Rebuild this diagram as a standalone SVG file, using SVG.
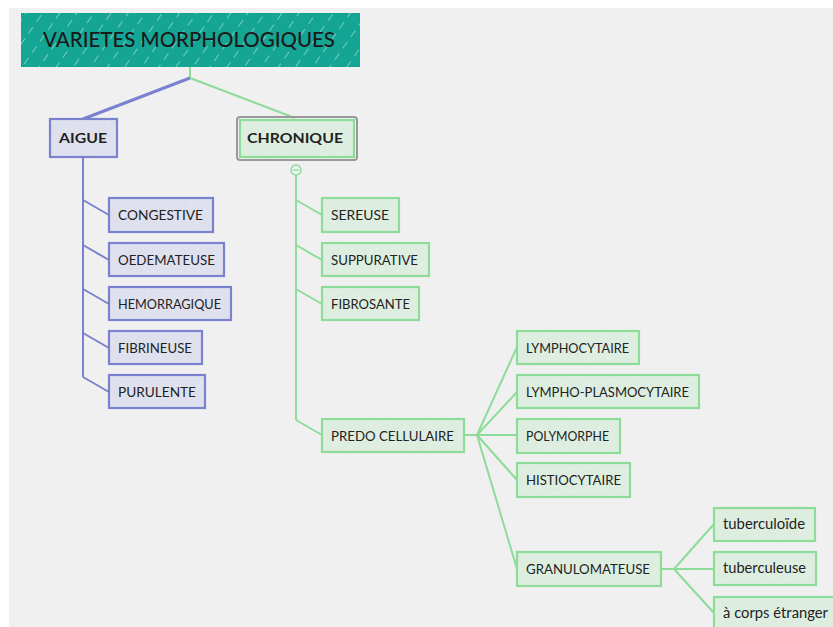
<svg xmlns="http://www.w3.org/2000/svg" width="833" height="627" viewBox="0 0 833 627">
<style>
.t{font-family:Lato,"Open Sans",sans-serif;font-size:13.5px;fill:#222222;}
.s{font-size:14.5px;}
.lb{fill:none;stroke:#7a82d0;stroke-width:2;}
.lg{fill:none;stroke:#8ddc9a;stroke-width:2;}
</style>
<defs>
<pattern id="hatchT" width="14" height="14" patternUnits="userSpaceOnUse" patternTransform="rotate(35)">
<rect width="14" height="14" fill="#14a594"/>
<line x1="0" y1="3" x2="0" y2="11" stroke="#b8e6df" stroke-width="1.2"/>
</pattern>
<pattern id="hatchB" width="16" height="16" patternUnits="userSpaceOnUse" patternTransform="rotate(35)">
<rect width="16" height="16" fill="#dfe0ee"/>
<line x1="0" y1="4" x2="0" y2="12" stroke="#eceef6" stroke-width="1"/>
</pattern>
<pattern id="hatchG" width="16" height="16" patternUnits="userSpaceOnUse" patternTransform="rotate(35)">
<rect width="16" height="16" fill="#ddeee0"/>
<line x1="0" y1="4" x2="0" y2="12" stroke="#ebf6ed" stroke-width="1"/>
</pattern>
</defs>
<rect width="833" height="627" fill="#ffffff"/>
<rect x="9" y="8" width="824" height="619" fill="#f0f0f0"/>

<g id="connectors">
<path class="lg" d="M190 67 V78"/>
<path d="M190 78 L83 119" fill="none" stroke="#7a82d0" stroke-width="3"/>
<path class="lg" d="M190 78 L295 118"/>
<path class="lb" d="M83 157 V377"/>
<path class="lb" d="M83 200 L109 215 M83 245 L109 260 M83 289 L109 304 M83 333 L109 348 M83 377 L109 392"/>
<path class="lg" d="M296 175 V420"/>
<path class="lg" d="M296 200 L322 215 M296 245 L322 260 M296 289 L322 304 M296 420 L322 435"/>
<path class="lg" d="M464 435 H477 M477 435 L517 347 M477 435 L517 392 M477 435 H517 M477 435 L517 480 M477 435 L517 569"/>
<path class="lg" d="M661 569 H674 M674 569 L714 524 M674 569 H714 M674 569 L714 613"/>
</g>

<g id="title">
<rect x="21" y="13" width="339" height="54" fill="url(#hatchT)"/>
<text x="43" y="47" font-family="Lato,'Open Sans',sans-serif" font-size="21" font-weight="500" fill="#1a1a1a" textLength="292" lengthAdjust="spacingAndGlyphs">VARIETES MORPHOLOGIQUES</text>
</g>

<g id="aigue">
<rect x="50" y="119" width="67" height="38" fill="url(#hatchB)" stroke="#7a82d0" stroke-width="2.2"/>
<text x="59" y="143" class="t" font-size="15" font-weight="bold" textLength="48" lengthAdjust="spacingAndGlyphs">AIGUE</text>
</g>

<g id="chronique">
<rect x="237" y="117" width="120" height="43" rx="3" fill="none" stroke="#999999" stroke-width="2"/>
<rect x="240" y="120" width="114" height="37" fill="url(#hatchG)" stroke="#8ddc9a" stroke-width="2.2"/>
<text x="247" y="143" class="t" font-size="15" font-weight="bold" textLength="96" lengthAdjust="spacingAndGlyphs">CHRONIQUE</text>
<circle cx="296" cy="170" r="5" fill="#eef6ef" stroke="#8ddc9a" stroke-width="1.5"/>
<line x1="293" y1="170" x2="299" y2="170" stroke="#8ddc9a" stroke-width="1.5"/>
</g>

<g id="congestive"><rect x="109" y="198" width="104" height="34" fill="url(#hatchB)" stroke="#7a82d0" stroke-width="2.2"/><text x="118" y="220" class="t" textLength="85" lengthAdjust="spacingAndGlyphs">CONGESTIVE</text></g>
<g id="oedemateuse"><rect x="109" y="243" width="115" height="33" fill="url(#hatchB)" stroke="#7a82d0" stroke-width="2.2"/><text x="118" y="264.5" class="t" textLength="97" lengthAdjust="spacingAndGlyphs">OEDEMATEUSE</text></g>
<g id="hemorragique"><rect x="109" y="287" width="122" height="33" fill="url(#hatchB)" stroke="#7a82d0" stroke-width="2.2"/><text x="118" y="308.5" class="t" textLength="103" lengthAdjust="spacingAndGlyphs">HEMORRAGIQUE</text></g>
<g id="fibrineuse"><rect x="109" y="331" width="93" height="33" fill="url(#hatchB)" stroke="#7a82d0" stroke-width="2.2"/><text x="118" y="352.5" class="t" textLength="74" lengthAdjust="spacingAndGlyphs">FIBRINEUSE</text></g>
<g id="purulente"><rect x="109" y="375" width="96" height="33" fill="url(#hatchB)" stroke="#7a82d0" stroke-width="2.2"/><text x="118" y="396.5" class="t" textLength="78" lengthAdjust="spacingAndGlyphs">PURULENTE</text></g>

<g id="sereuse"><rect x="322" y="198" width="77" height="34" fill="url(#hatchG)" stroke="#8ddc9a" stroke-width="2.2"/><text x="331" y="220" class="t" textLength="58" lengthAdjust="spacingAndGlyphs">SEREUSE</text></g>
<g id="suppurative"><rect x="322" y="243" width="107" height="33" fill="url(#hatchG)" stroke="#8ddc9a" stroke-width="2.2"/><text x="331" y="264.5" class="t" textLength="87" lengthAdjust="spacingAndGlyphs">SUPPURATIVE</text></g>
<g id="fibrosante"><rect x="322" y="287" width="97" height="33" fill="url(#hatchG)" stroke="#8ddc9a" stroke-width="2.2"/><text x="331" y="308.5" class="t" textLength="79" lengthAdjust="spacingAndGlyphs">FIBROSANTE</text></g>
<g id="predo"><rect x="322" y="419" width="142" height="33" fill="url(#hatchG)" stroke="#8ddc9a" stroke-width="2.2"/><text x="331" y="440.5" class="t" textLength="123" lengthAdjust="spacingAndGlyphs">PREDO CELLULAIRE</text></g>

<g id="lymphocytaire"><rect x="517" y="331" width="122" height="33" fill="url(#hatchG)" stroke="#8ddc9a" stroke-width="2.2"/><text x="526" y="352.5" class="t" textLength="103" lengthAdjust="spacingAndGlyphs">LYMPHOCYTAIRE</text></g>
<g id="lympho-plasmocytaire"><rect x="517" y="375" width="182" height="33" fill="url(#hatchG)" stroke="#8ddc9a" stroke-width="2.2"/><text x="526" y="396.5" class="t" textLength="163" lengthAdjust="spacingAndGlyphs">LYMPHO-PLASMOCYTAIRE</text></g>
<g id="polymorphe"><rect x="517" y="419" width="103" height="34" fill="url(#hatchG)" stroke="#8ddc9a" stroke-width="2.2"/><text x="526" y="441" class="t" textLength="83" lengthAdjust="spacingAndGlyphs">POLYMORPHE</text></g>
<g id="histiocytaire"><rect x="517" y="463" width="113" height="34" fill="url(#hatchG)" stroke="#8ddc9a" stroke-width="2.2"/><text x="526" y="485" class="t" textLength="95" lengthAdjust="spacingAndGlyphs">HISTIOCYTAIRE</text></g>
<g id="granulomateuse"><rect x="517" y="552" width="144" height="34" fill="url(#hatchG)" stroke="#8ddc9a" stroke-width="2.2"/><text x="526" y="574" class="t" textLength="124" lengthAdjust="spacingAndGlyphs">GRANULOMATEUSE</text></g>

<g id="tuberculoide"><rect x="714" y="508" width="101" height="33" fill="url(#hatchG)" stroke="#8ddc9a" stroke-width="2.2"/><text x="723" y="529" class="t s" textLength="82" lengthAdjust="spacingAndGlyphs">tuberculoïde</text></g>
<g id="tuberculeuse"><rect x="714" y="552" width="102" height="33" fill="url(#hatchG)" stroke="#8ddc9a" stroke-width="2.2"/><text x="723" y="573" class="t s" textLength="83" lengthAdjust="spacingAndGlyphs">tuberculeuse</text></g>
<g id="corps-etranger"><rect x="714" y="597" width="125" height="40" fill="url(#hatchG)" stroke="#8ddc9a" stroke-width="2.2"/><text x="723" y="617.5" class="t s" textLength="105" lengthAdjust="spacingAndGlyphs">à corps étranger</text></g>
</svg>
